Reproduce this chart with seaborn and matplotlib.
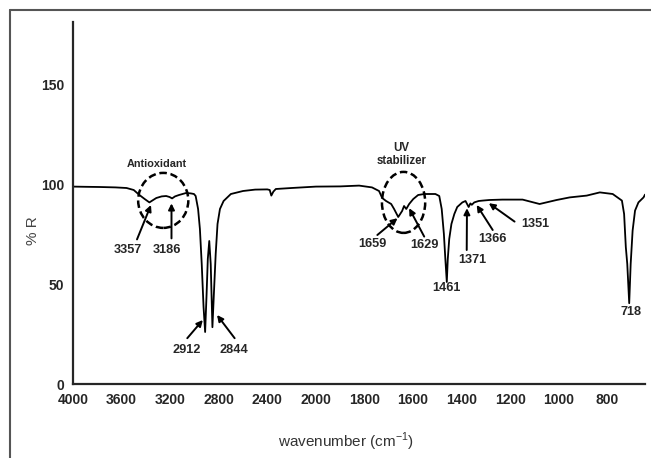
import numpy as np
import pandas as pd
import matplotlib.pyplot as plt
import seaborn as sns
from matplotlib.patches import Ellipse
from matplotlib.lines import Line2D

# spectrum (wavenumber in cm-1, %R)
wavenumber = [4000, 3900, 3780, 3650, 3559, 3500, 3453, 3410, 3371, 3340,
              3314, 3270, 3233, 3205, 3184, 3160, 3127, 3069, 3030, 3004,
              2990, 2970, 2955, 2940, 2925, 2912, 2900, 2890, 2878, 2866,
              2852, 2840, 2825, 2810, 2790, 2760, 2700, 2600, 2500, 2400,
              2380, 2367, 2350, 2330, 2200, 2000, 1900, 1822, 1769, 1740,
              1727, 1711, 1690, 1678, 1661, 1645, 1637, 1628, 1616, 1599,
              1579, 1554, 1508, 1492, 1482, 1473, 1467, 1461, 1457, 1451,
              1442, 1430, 1418, 1397, 1384, 1371, 1364, 1358, 1348, 1330,
              1314, 1286, 1232, 1149, 1079, 1009, 955, 885, 831, 778,
              740, 731, 724, 718, 710, 704, 696, 686, 672, 651, 645]
reflectance = [98.7, 98.6, 98.5, 98.3, 98.0, 97.0, 94.5, 92.5, 90.8, 92.0,
               93.0, 93.8, 94.0, 93.5, 92.8, 93.8, 94.5, 95.5, 95.3, 95.0,
               94.0, 87.5, 77.5, 60.0, 38.5, 26.0, 45.0, 62.5, 71.5, 60.0,
               28.4, 45.0, 65.0, 80.0, 87.5, 91.5, 95.0, 96.5, 97.2, 97.3,
               97.0, 94.2, 96.2, 97.5, 98.0, 98.7, 98.8, 99.2, 98.3, 96.5,
               93.0, 91.5, 90.0, 87.5, 83.5, 86.5, 89.0, 87.5, 90.0, 92.5,
               94.5, 95.0, 95.0, 94.0, 87.5, 75.0, 62.5, 51.0, 62.5, 72.5,
               80.0, 85.0, 88.5, 90.8, 91.5, 88.5, 90.3, 89.6, 90.8, 91.5,
               91.7, 92.0, 92.2, 92.2, 90.0, 92.0, 93.3, 94.2, 95.8, 95.0,
               91.7, 85.0, 68.5, 60.0, 40.4, 60.0, 76.7, 86.7, 90.8, 93.3, 94.7]

x_ticks = [4000, 3600, 3200, 2800, 2400, 2000, 1800, 1600, 1400, 1200, 1000, 800]
y_ticks = [0, 50, 100, 150]

# peak labels: (text, arrow tip, arrow tail, text position)
peaks = [
    ("3357", (3358, 89.5), (3473, 72.3), (3551, 67.0)),
    ("3186", (3189, 90.3), (3189, 72.8), (3225, 67.0)),
    ("2912", (2931, 32.0), (3059, 22.9), (3064, 17.0)),
    ("2844", (2814, 34.5), (2669, 22.9), (2678, 17.0)),
    ("1659", (1664, 82.9), (1747, 74.5), (1767, 69.9)),
    ("1629", (1616, 87.9), (1554, 73.7), (1554, 69.5)),
    ("1461", None, None, (1462, 47.9)),
    ("1371", (1378, 87.9), (1379, 67.0), (1357, 62.0)),
    ("1366", (1338, 89.5), (1272, 77.0), (1272, 72.5)),
    ("1351", (1288, 90.4), (1182, 81.2), (1095, 80.0)),
    ("718", None, None, (702, 36.2)),
]

df = pd.DataFrame({"wavenumber": wavenumber, "R": reflectance})

sns.set_style("white")
plt.rcParams["font.family"] = ["Liberation Sans", "DejaVu Sans"]


def fwd(x):
    x = np.asarray(x, dtype=float)
    return np.where(x > 2000, 2000 + (x - 2000) / 2, x)


def inv(x):
    x = np.asarray(x, dtype=float)
    return np.where(x > 2000, 2000 + (x - 2000) * 2, x)


fig = plt.figure(figsize=(6.51, 4.58), dpi=100)
ax = fig.add_axes([73 / 651, 74 / 458, 572 / 651, 362 / 458])

sns.lineplot(data=df, x="wavenumber", y="R", color="black", lw=1.3, ax=ax)

ax.set_xscale("function", functions=(fwd, inv))
ax.set_xlim(4000, 645)
ax.set_ylim(0, 181)
ax.set_xticks(x_ticks)
ax.set_xticklabels([str(t) for t in x_ticks])
ax.set_yticks(y_ticks)
ax.minorticks_off()

for s in ["top", "right"]:
    ax.spines[s].set_visible(False)
for s in ["left", "bottom"]:
    ax.spines[s].set_linewidth(1.6)
ax.tick_params(direction="inout", length=7, width=1.5, labelsize=10, pad=3)
for lab in ax.get_xticklabels() + ax.get_yticklabels():
    lab.set_fontweight("bold")

ax.set_xlabel("wavenumber (cm$^{\\mathregular{-1}}$)", fontsize=11, color="#333333")
ax.set_ylabel("% R", fontsize=11, color="#444444")
ax.xaxis.set_label_coords(0.477, -0.128)
ax.yaxis.set_label_coords(-0.057, 0.425)

# dashed circles
ax.add_patch(Ellipse((3257, 91.8), 413, 27.5, fill=False, ec="black", lw=1.8, ls=(0, (3, 1.5))))
ax.add_patch(Ellipse((1639, 90.8), 178, 30.5, fill=False, ec="black", lw=1.8, ls=(0, (3, 1.5))))
ax.text(3306, 110, "Antioxidant", ha="center", va="center", fontsize=7.8, fontweight="bold")
ax.text(1649, 114.8, "UV\nstabilizer", ha="center", va="center", fontsize=8.3,
        fontweight="bold", linespacing=1.1)

for label, tip, tail, pos in peaks:
    if tip is not None:
        ax.annotate("", xy=tip, xytext=tail,
                    arrowprops=dict(arrowstyle="-|>", color="black", lw=1.4,
                                    mutation_scale=9, shrinkA=0, shrinkB=0))
    ax.text(pos[0], pos[1], label, ha="center", va="center", fontsize=9.2,
            fontweight="bold", family=["Liberation Sans Narrow", "Liberation Sans"])

# outer frame
fig.add_artist(Line2D([10 / 651, 10 / 651], [0, 1 - 10 / 458], transform=fig.transFigure,
                      color="#555555", lw=1.5))
fig.add_artist(Line2D([10 / 651, 1], [1 - 10 / 458, 1 - 10 / 458], transform=fig.transFigure,
                      color="#555555", lw=1.5))

plt.savefig("out.png", dpi=100)
